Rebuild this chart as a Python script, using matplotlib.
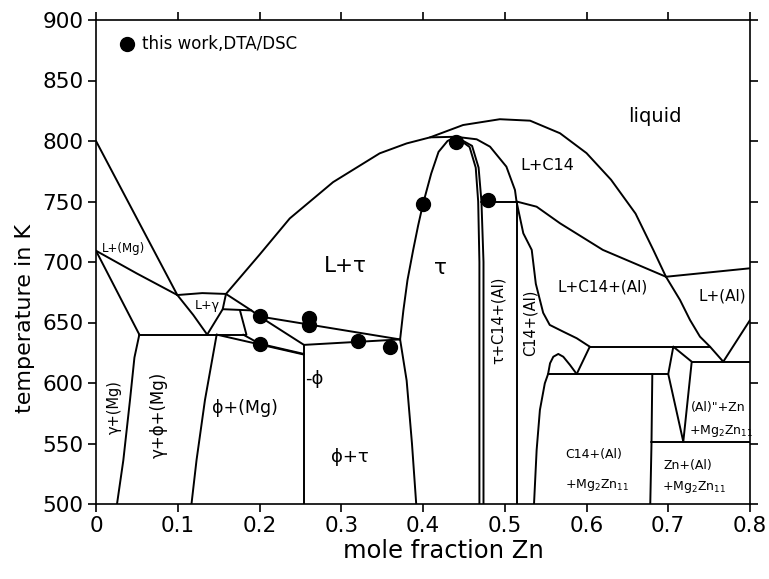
import matplotlib
matplotlib.use("Agg")
import matplotlib.pyplot as plt

plt.rcParams['font.family'] = ['DejaVu Sans']
plt.rcParams['mathtext.fontset'] = 'dejavusans'

# ---- phase boundaries: mole fraction Zn / temperature in K ----
mg_liquidus_x = [0.0, 0.0995]
mg_liquidus_t = [800, 672.7]
mg_solidus_x = [0.0, 0.05, 0.0995]
mg_solidus_t = [709.3, 690.5, 672.7]
mg_solvus_x = [0.0, 0.053]
mg_solvus_t = [709.3, 640]
mg_gamma_x = [0.053, 0.047, 0.0416, 0.0334, 0.0257]
mg_gamma_t = [640, 621, 586, 536, 500]
eutectic_640_x = [0.053, 0.184]
eutectic_640_t = [640, 640]
gamma_liq_left_x = [0.0995, 0.119, 0.136]
gamma_liq_left_t = [672.7, 656.2, 640]
l_gamma_top_x = [0.0995, 0.13, 0.159]
l_gamma_top_t = [672.7, 674.3, 673.6]
gamma_liq_right_x = [0.159, 0.155, 0.136]
gamma_liq_right_t = [673.6, 661, 640]
phi_mg_x = [0.1476, 0.1333, 0.123, 0.1168]
phi_mg_t = [640, 586, 536.4, 500]
l_tau_liquidus_x = [0.159, 0.2, 0.237, 0.29, 0.347, 0.38, 0.4086, 0.44]
l_tau_liquidus_t = [673.6, 706, 736, 766, 789.8, 798, 803, 803.5]
upper_tie_x = [0.159, 0.19, 0.2, 0.372]
upper_tie_t = [673.6, 660, 655, 636]
horiz_660_x = [0.155, 0.19]
horiz_660_t = [661, 660]
short_tie_x = [0.176, 0.184]
short_tie_t = [660.3, 640]
phi_link_x = [0.2, 0.2544]
phi_link_t = [655, 631.5]
phi_top_x = [0.2544, 0.372]
phi_top_t = [631.5, 636]
lower_tie1_x = [0.1476, 0.2544]
lower_tie1_t = [640, 623.5]
lower_tie2_x = [0.18, 0.2, 0.2544]
lower_tie2_t = [640, 632.5, 624]
phi_line_x = [0.2544, 0.2544]
phi_line_t = [631.5, 500]
tau_left_low_x = [0.372, 0.38, 0.3865, 0.3917]
tau_left_low_t = [636, 602, 550, 500]
tau_left_up_x = [0.372, 0.376, 0.381, 0.388, 0.394, 0.4, 0.41, 0.419, 0.43, 0.44]
tau_left_up_t = [636, 660, 685, 710, 730, 748, 773, 791, 800, 803.5]
tau_right_a_x = [0.44, 0.457, 0.4645, 0.4675, 0.469, 0.469]
tau_right_a_t = [803.5, 795, 778, 750, 700, 500]
tau_right_b_x = [0.44, 0.46, 0.468, 0.4715, 0.474, 0.474]
tau_right_b_t = [803.5, 796, 778, 750, 700, 500]
horiz_750_x = [0.4715, 0.5144]
horiz_750_t = [750, 750]
c14_top_x = [0.44, 0.4657, 0.482, 0.502, 0.5125, 0.5144]
c14_top_t = [803.5, 801.4, 795.3, 778.8, 759.5, 750]
c14_line_x = [0.5144, 0.5144]
c14_line_t = [750, 500]
c14_al_x = [0.5144, 0.5227, 0.533, 0.538, 0.547, 0.555, 0.5716, 0.588, 0.604]
c14_al_t = [750, 723.7, 710, 682, 658, 648, 642.4, 637, 630]
l_c14_x = [0.5144, 0.539, 0.5676, 0.62, 0.6972]
l_c14_t = [750, 745.7, 732, 710, 687.8]
dome_x = [0.4086, 0.449, 0.494, 0.531, 0.5676, 0.6, 0.63, 0.66, 0.6817, 0.6972]
dome_t = [803, 813.2, 818, 816.8, 806.4, 790, 768, 740, 710, 687.8]
al_liquidus_x = [0.6972, 0.8]
al_liquidus_t = [687.8, 694.8]
al_curve_x = [0.6972, 0.7144, 0.7266, 0.7388, 0.7511, 0.7673]
al_curve_t = [687.8, 668.6, 652.1, 638.3, 630, 617.6]
al_rise_x = [0.7673, 0.8]
al_rise_t = [617.6, 652]
horiz_630_x = [0.604, 0.7511]
horiz_630_t = [630, 630]
v_drop_x = [0.604, 0.588]
v_drop_t = [630, 607.4]
hump_x = [0.5358, 0.539, 0.543, 0.549, 0.553, 0.5554, 0.5594, 0.5655,
          0.5716, 0.5798, 0.588]
hump_t = [500, 544.6, 577.7, 599.7, 607.4, 616.3, 621.7, 624, 621.7, 614.9, 607.4]
horiz_607_x = [0.553, 0.7]
horiz_607_t = [607.4, 607.4]
mg2zn11_x = [0.6805, 0.6795, 0.678]
mg2zn11_t = [607.4, 550, 500]
wedge_left_x = [0.7062, 0.7, 0.7184]
wedge_left_t = [630, 607.4, 551.5]
wedge_right_x = [0.7062, 0.7287, 0.7184]
wedge_right_t = [630, 617.6, 551.5]
horiz_617_x = [0.7287, 0.8]
horiz_617_t = [617.6, 617.6]
horiz_551_x = [0.6795, 0.8]
horiz_551_t = [551, 551]

boundaries = [
    (mg_liquidus_x, mg_liquidus_t), (mg_solidus_x, mg_solidus_t),
    (mg_solvus_x, mg_solvus_t), (mg_gamma_x, mg_gamma_t),
    (eutectic_640_x, eutectic_640_t), (gamma_liq_left_x, gamma_liq_left_t),
    (l_gamma_top_x, l_gamma_top_t), (gamma_liq_right_x, gamma_liq_right_t),
    (phi_mg_x, phi_mg_t), (l_tau_liquidus_x, l_tau_liquidus_t),
    (upper_tie_x, upper_tie_t), (horiz_660_x, horiz_660_t),
    (short_tie_x, short_tie_t), (phi_link_x, phi_link_t),
    (phi_top_x, phi_top_t), (lower_tie1_x, lower_tie1_t),
    (lower_tie2_x, lower_tie2_t), (phi_line_x, phi_line_t),
    (tau_left_low_x, tau_left_low_t), (tau_left_up_x, tau_left_up_t),
    (tau_right_a_x, tau_right_a_t), (tau_right_b_x, tau_right_b_t),
    (horiz_750_x, horiz_750_t), (c14_top_x, c14_top_t),
    (c14_line_x, c14_line_t), (c14_al_x, c14_al_t), (l_c14_x, l_c14_t),
    (dome_x, dome_t), (al_liquidus_x, al_liquidus_t),
    (al_curve_x, al_curve_t), (al_rise_x, al_rise_t),
    (horiz_630_x, horiz_630_t), (v_drop_x, v_drop_t), (hump_x, hump_t),
    (horiz_607_x, horiz_607_t), (mg2zn11_x, mg2zn11_t),
    (wedge_left_x, wedge_left_t), (wedge_right_x, wedge_right_t),
    (horiz_617_x, horiz_617_t), (horiz_551_x, horiz_551_t),
]

# ---- DTA/DSC measurements ----
dta_x = [0.20, 0.20, 0.26, 0.26, 0.32, 0.36, 0.40, 0.44, 0.48]
dta_t = [655, 632.5, 653.5, 648, 635, 630, 748, 799.5, 751.5]

# ---- axis ticks ----
x_ticks = [0.0, 0.1, 0.2, 0.3, 0.4, 0.5, 0.6, 0.7, 0.8]
x_tick_labels = ['0', '0.1', '0.2', '0.3', '0.4', '0.5', '0.6', '0.7', '0.8']
y_ticks = [500, 550, 600, 650, 700, 750, 800, 850, 900]

# ---- phase-field labels: (text, x, T, size, rotation) ----
region_labels = [
    ('liquid', 0.684, 820, 14, 0),
    ('L+C14', 0.552, 780, 11.5, 0),
    ('L+τ', 0.305, 697, 15.5, 0),
    ('τ', 0.421, 695, 15.5, 0),
    ('L+(Mg)', 0.034, 711, 8.5, 0),
    ('L+γ', 0.136, 664, 9, 0),
    ('γ+(Mg)', 0.022, 580, 10.5, 90),
    ('γ+ϕ+(Mg)', 0.077, 574, 12, 90),
    ('ϕ+(Mg)', 0.182, 579, 12.5, 0),
    ('-ϕ', 0.267, 603, 13, 0),
    ('ϕ+τ', 0.311, 539, 13, 0),
    ('τ+C14+(Al)', 0.4915, 652, 10.5, 90),
    ('C14+(Al)', 0.5305, 650, 10.5, 90),
    ('L+C14+(Al)', 0.620, 679, 11, 0),
    ('L+(Al)', 0.7657, 672, 11, 0),
    ('(Al)"+Zn', 0.7615, 579.5, 9, 0),
    ('+Mg$_2$Zn$_{11}$', 0.7645, 560, 9, 0),
    ('Zn+(Al)', 0.724, 532, 9, 0),
    ('+Mg$_2$Zn$_{11}$', 0.731, 514, 9, 0),
    ('C14+(Al)', 0.609, 540.5, 9, 0),
    ('+Mg$_2$Zn$_{11}$', 0.613, 515.5, 9, 0),
]

fig = plt.figure(figsize=(7.69, 5.79), dpi=100)
ax = fig.add_axes([96 / 769, 75 / 579, 654 / 769, 484 / 579])

for xs, ts in boundaries:
    ax.plot(xs, ts, color='black', lw=1.4, solid_joinstyle='round',
            solid_capstyle='round')

ax.plot(dta_x, dta_t, 'o', color='black', ms=10, ls='none',
        label='this work,DTA/DSC', zorder=5)

for text, x, t, size, rot in region_labels:
    ax.text(x, t, text, fontsize=size, rotation=rot, ha='center',
            va='center', color='black')

ax.set_xlim(0, 0.8)
ax.set_ylim(500, 900)
ax.set_xticks(x_ticks)
ax.set_xticklabels(x_tick_labels)
ax.set_yticks(y_ticks)
ax.tick_params(direction='out', length=6, width=1.2, top=True, right=True,
               labelsize=15.5, pad=3, colors='black')
for sp in ax.spines.values():
    sp.set_linewidth(1.2)

leg = ax.legend(loc='upper left', bbox_to_anchor=(0.0367, 0.968),
                frameon=False, handlelength=0.8, handletextpad=0.5,
                borderaxespad=0, borderpad=0, fontsize=12, numpoints=1)

fig.text(443 / 769, 1 - 551 / 579, 'mole fraction Zn', fontsize=17.5,
         ha='center', va='center')
fig.text(25 / 769, 1 - 318 / 579, 'temperature in K', fontsize=16,
         ha='center', va='center', rotation=90)

fig.savefig('out.png', dpi=100)
